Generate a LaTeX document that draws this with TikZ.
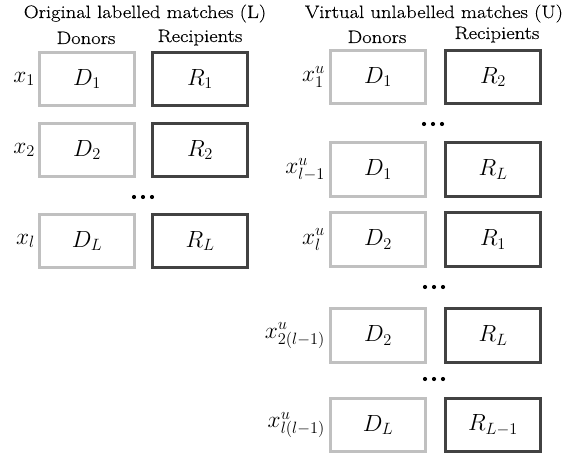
\RequirePackage{fix-cm}
\documentclass[tikz,border=0pt]{standalone}
\usepackage{fontspec}
\newfontfamily\headfont[FakeStretch=1.15,FakeBold=0.35]{Latin Modern Roman}
\usepackage{xcolor}
\definecolor{lightbox}{HTML}{C0C0C0}
\definecolor{darkbox}{HTML}{424242}
\begin{document}
\begin{tikzpicture}[x=1bp,y=-1bp,
  donorbox/.style={draw=lightbox,line width=2.6bp,minimum width=95.5bp,minimum height=53.5bp,inner sep=0pt,font=\fontsize{23.5}{27}\selectfont},
  recipbox/.style={draw=darkbox,line width=2.6bp,minimum width=95.5bp,minimum height=53.5bp,inner sep=0pt,font=\fontsize{23.5}{27}\selectfont},
  rowlabel/.style={anchor=east,inner sep=0pt,font=\fontsize{23.5}{27}\selectfont},
  headtext/.style={anchor=base,inner sep=0pt,font=\headfont\fontsize{18}{21}\selectfont},
  dotmark/.style={circle,fill=black,inner sep=0pt,minimum size=4.2bp}
]
\useasboundingbox (0,0) rectangle (587,455);
% ---------- left column ----------
\node[headtext] (tl) at (145,18) {Original labelled matches (L)};
\node[headtext] (dl) at (86,44) {Donors};
\node[headtext] (rl) at (200,42) {Recipients};

\node[donorbox] (ld1) at (87,79) {$D_1$};
\node[recipbox] (lr1) at (200,79) {$R_1$};
\node[rowlabel] (lx1) at (35,79) {$x_1$};

\node[donorbox] (ld2) at (87,150) {$D_2$};
\node[recipbox] (lr2) at (200,150) {$R_2$};
\node[rowlabel] (lx2) at (35,150) {$x_2$};

\node[dotmark] (ldA) at (134,197) {};
\node[dotmark] (ldB) at (143,197) {};
\node[dotmark] (ldC) at (152,197) {};

\node[donorbox] (ld3) at (87,241) {$D_L$};
\node[recipbox] (lr3) at (200,241) {$R_L$};
\node[rowlabel] (lx3) at (35,241) {$x_l$};

% ---------- right column ----------
\node[headtext] (tr) at (434,18) {Virtual unlabelled matches (U)};
\node[headtext] (dr) at (377,43) {Donors};
\node[headtext] (rr) at (497,39) {Recipients};

\node[donorbox] (rd1) at (378,77) {$D_1$};
\node[recipbox] (rr1) at (493,77) {$R_2$};
\node[rowlabel] (rx1) at (325,77) {$x^u_1$};

\node[dotmark] (rdA) at (424,124) {};
\node[dotmark] (rdB) at (433,124) {};
\node[dotmark] (rdC) at (442,124) {};

\node[donorbox] (rd2) at (378,169.5) {$D_1$};
\node[recipbox] (rr2) at (493,169.5) {$R_L$};
\node[rowlabel] (rx2) at (325,169.5) {$x^u_{l-1}$};

\node[donorbox] (rd3) at (378,239.5) {$D_2$};
\node[recipbox] (rr3) at (493,239.5) {$R_1$};
\node[rowlabel] (rx3) at (325,239.5) {$x^u_l$};

\node[dotmark] (reA) at (425,287) {};
\node[dotmark] (reB) at (434,287) {};
\node[dotmark] (reC) at (443,287) {};

\node[donorbox] (rd4) at (378,335.5) {$D_2$};
\node[recipbox] (rr4) at (493,335.5) {$R_L$};
\node[rowlabel] (rx4) at (325,335.5) {$x^u_{2(l-1)}$};

\node[dotmark] (rfA) at (425,379) {};
\node[dotmark] (rfB) at (434,379) {};
\node[dotmark] (rfC) at (443,379) {};

\node[donorbox] (rd5) at (378,425) {$D_L$};
\node[recipbox] (rr5) at (493,425) {$R_{L-1}$};
\node[rowlabel] (rx5) at (325,425) {$x^u_{l(l-1)}$};
\end{tikzpicture}
\end{document}
